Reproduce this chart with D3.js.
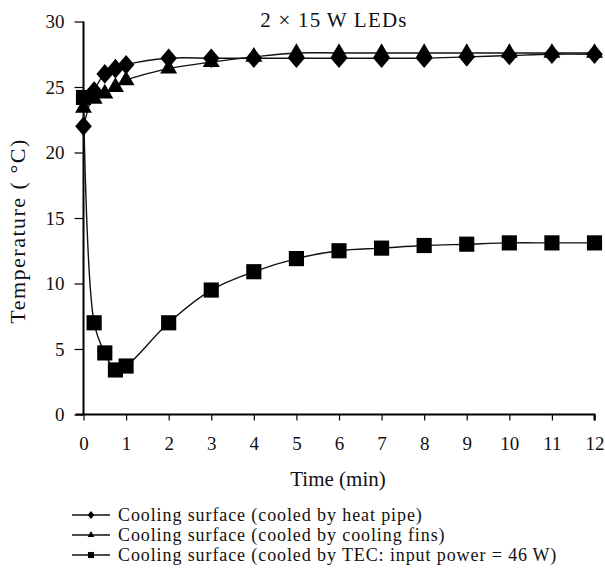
<!DOCTYPE html>
<html>
<head>
<meta charset="utf-8">
<script src="https://cdn.jsdelivr.net/npm/d3@7"></script>
<style>
  body { margin: 0; background: #fff; }
  text { font-family: "Liberation Serif", "DejaVu Serif", serif; fill: #111; }
</style>
</head>
<body>
<div id="chart"></div>
<script>
// time in minutes
const times = [0, 0.25, 0.5, 0.75, 1, 2, 3, 4, 5, 6, 7, 8, 9, 10, 11, 12];
const heatPipe = [22.0, 24.7, 26.0, 26.4, 26.7, 27.2, 27.2, 27.2, 27.2, 27.2, 27.2, 27.2, 27.3, 27.4, 27.5, 27.5];
const coolingFins = [23.4, 24.1, 24.5, 25.0, 25.5, 26.4, 26.9, 27.3, 27.6, 27.6, 27.6, 27.6, 27.6, 27.6, 27.6, 27.6];
const tec = [24.2, 7.0, 4.7, 3.4, 3.7, 7.0, 9.5, 10.9, 11.9, 12.5, 12.7, 12.9, 13.0, 13.1, 13.1, 13.1];
const xTicks = [0, 1, 2, 3, 4, 5, 6, 7, 8, 9, 10, 11, 12];
const yTicks = [0, 5, 10, 15, 20, 25, 30];
const seriesNames = [
    "Cooling surface (cooled by heat pipe)",
    "Cooling surface (cooled by cooling fins)",
    "Cooling surface (cooled by TEC: input power = 46\u2009W)"
];

const width = 605, height = 578;
const margin = { top: 21.5, right: 10.5, bottom: 163.5, left: 83.5 };

const svg = d3.select("#chart").append("svg")
    .attr("width", width)
    .attr("height", height);

const x = d3.scaleLinear().domain([0, 12]).range([margin.left, width - margin.right]);
const y = d3.scaleLinear().domain([0, 30]).range([height - margin.bottom, margin.top]);

// a diamond a bit fatter than d3's own
const fatDiamond = {
    draw(ctx, size) {
        const h = Math.sqrt(size) * 0.62, w = h * 0.85;
        ctx.moveTo(0, -h);
        ctx.lineTo(w, 0);
        ctx.lineTo(0, h);
        ctx.lineTo(-w, 0);
        ctx.closePath();
    }
};

const series = [
    { name: seriesNames[0], values: heatPipe, symbol: fatDiamond, size: 250 },
    { name: seriesNames[1], values: coolingFins, symbol: d3.symbolTriangle, size: 125 },
    { name: seriesNames[2], values: tec, symbol: d3.symbolSquare, size: 230 }
];

// axes
svg.append("g")
    .attr("transform", `translate(0,${y(0)})`)
    .call(d3.axisBottom(x).tickValues(xTicks).tickSize(6).tickPadding(16).tickFormat(d3.format("d")))
    .call(g => g.select(".domain").attr("stroke-width", 2).attr("d", `M${x(0) - 8},0H${x(12)}V6`))
    .call(g => g.selectAll(".tick line").attr("stroke-width", 1.2))
    .call(g => g.selectAll("text").attr("font-size", 19).style("font-family", "Liberation Serif"));

svg.append("g")
    .attr("transform", `translate(${x(0)},0)`)
    .call(d3.axisLeft(y).tickValues(yTicks).tickSize(9).tickPadding(10))
    .call(g => g.select(".domain").attr("stroke-width", 2).attr("d", `M0,${y(30)}V${y(0)}`))
    .call(g => g.selectAll(".tick line").attr("stroke-width", 1.2))
    .call(g => g.selectAll("text").attr("font-size", 19).style("font-family", "Liberation Serif"));

// lines
const line = d3.line()
    .x((d, i) => x(times[i]))
    .y(d => y(d))
    .curve(d3.curveCatmullRom.alpha(0.5));

series.forEach(s => {
    svg.append("path")
        .attr("d", line(s.values))
        .attr("fill", "none")
        .attr("stroke", "#111")
        .attr("stroke-width", 1.4);
});

// markers (TEC first, heat pipe last so diamonds sit on top)
[series[2], series[1], series[0]].forEach(s => {
    svg.append("g").selectAll("path")
        .data(s.values)
        .join("path")
        .attr("transform", (d, i) => `translate(${x(times[i])},${y(d)})`)
        .attr("d", d3.symbol().type(s.symbol).size(s.size))
        .attr("fill", "#000");
});

// title
svg.append("text")
    .attr("x", 334)
    .attr("y", 27)
    .attr("text-anchor", "middle")
    .attr("font-size", 21)
    .attr("letter-spacing", 1.2)
    .text("2 \u00d7 15\u2009W LEDs");

// axis titles
svg.append("text")
    .attr("x", 338)
    .attr("y", 486)
    .attr("text-anchor", "middle")
    .attr("font-size", 21)
    .text("Time (min)");

svg.append("text")
    .attr("transform", `translate(25,${y(15) + 13}) rotate(-90)`)
    .attr("text-anchor", "middle")
    .attr("font-size", 22)
    .attr("letter-spacing", 1.5)
    .text("Temperature ( \u00b0C)");

// legend
const legend = svg.append("g").attr("transform", "translate(72,515)");
series.forEach((s, i) => {
    const row = legend.append("g").attr("transform", `translate(0,${i * 20})`);
    row.append("line")
        .attr("x1", 0).attr("x2", 38)
        .attr("y1", 0).attr("y2", 0)
        .attr("stroke", "#111").attr("stroke-width", 1.5);
    row.append("path")
        .attr("transform", "translate(19,0)")
        .attr("d", d3.symbol().type(s.symbol).size(s.size * 0.16))
        .attr("fill", "#000");
    row.append("text")
        .attr("x", 46)
        .attr("y", 0)
        .attr("dy", "0.33em")
        .attr("font-size", 18)
        .attr("letter-spacing", 0.9)
        .text(s.name);
});
</script>
</body>
</html>
